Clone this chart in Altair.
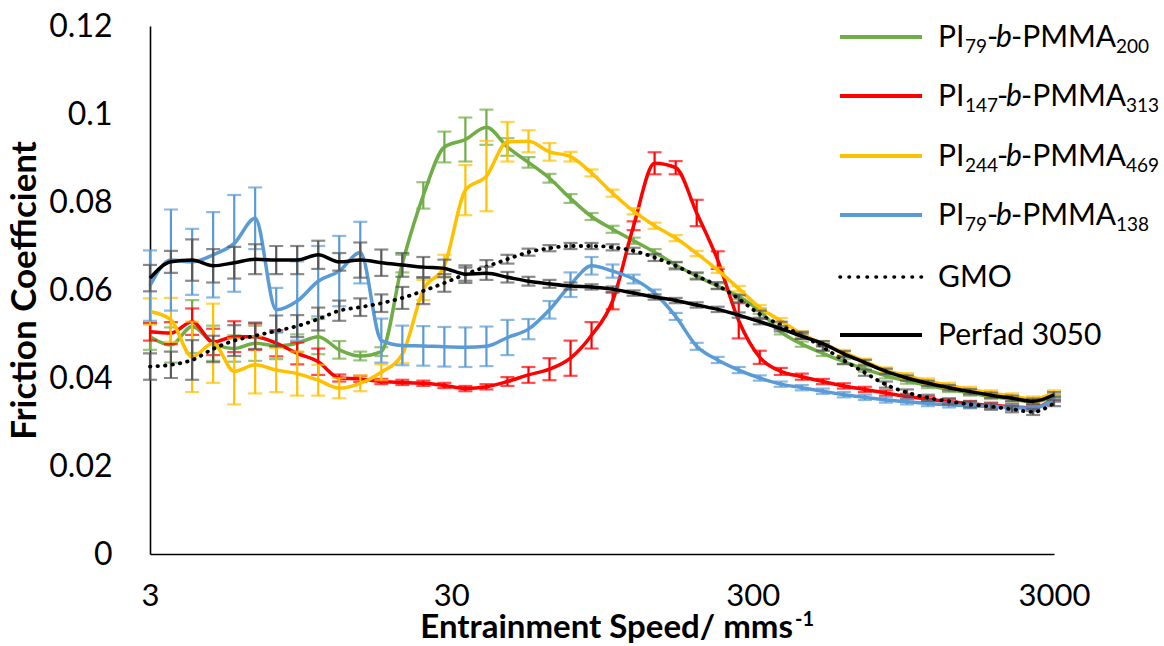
import altair as alt
import pandas as pd

# Entrainment speed (mm/s), logarithmic sweep used for every lubricant
speed = [3.0, 3.52, 4.14, 4.86, 5.71, 6.70, 7.87, 9.24, 10.85, 12.74,
         14.96, 17.57, 20.63, 24.22, 28.45, 33.40, 39.23, 46.06, 54.09, 63.52,
         74.59, 87.59, 102.9, 120.8, 141.8, 166.6, 195.6, 229.7, 269.7, 316.7,
         371.9, 436.8, 512.9, 602.3, 707.3, 830.6, 975.4, 1145, 1345, 1580,
         1855, 2178, 2558, 3000]

# Friction coefficient and error (+/-) for each lubricant
pi79_200 = [0.0494, 0.0475, 0.0517, 0.0479, 0.0467, 0.0479, 0.0473, 0.0479, 0.0494, 0.0464,
            0.0450, 0.0460, 0.0660, 0.0815, 0.0925, 0.0942, 0.0970, 0.0925, 0.0890, 0.0854,
            0.0808, 0.0767, 0.0738, 0.0712, 0.0686, 0.0657, 0.0632, 0.0609, 0.0585, 0.0552,
            0.0505, 0.0477, 0.0456, 0.0437, 0.0420, 0.0405, 0.0393, 0.0383, 0.0374, 0.0366,
            0.0358, 0.0352, 0.0346, 0.0357]
pi79_200_err = [0.003, 0.004, 0.006, 0.004, 0.003, 0.004, 0.003, 0.002, 0.004, 0.002,
                0.001, 0.001, 0.002, 0.003, 0.0035, 0.005, 0.004, 0.002, 0.0012, 0.001,
                0.001, 0.0008, 0.0008, 0.0007, 0.0007, 0.0007, 0.0006, 0.0006, 0.0006, 0.0006,
                0.0006, 0.0006, 0.0006, 0.0006, 0.0006, 0.0006, 0.0006, 0.0006, 0.0006, 0.0006,
                0.0006, 0.0006, 0.0006, 0.0006]

pi147_313 = [0.0505, 0.0502, 0.0528, 0.0482, 0.0494, 0.0494, 0.0479, 0.0456, 0.0437, 0.0400,
             0.0398, 0.0392, 0.0390, 0.0388, 0.0383, 0.0376, 0.0380, 0.0392, 0.0407, 0.0420,
             0.0445, 0.0497, 0.0575, 0.0746, 0.0888, 0.0878, 0.0775, 0.0668, 0.0530, 0.0447,
             0.0415, 0.0403, 0.0392, 0.0382, 0.0374, 0.0366, 0.0358, 0.0352, 0.0346, 0.0342,
             0.0338, 0.0335, 0.0332, 0.0353]
pi147_313_err = [0.002, 0.0025, 0.003, 0.003, 0.0035, 0.003, 0.003, 0.0025, 0.003, 0.0008,
                 0.0007, 0.0006, 0.0006, 0.0006, 0.0006, 0.0006, 0.0006, 0.0010, 0.0018, 0.0025,
                 0.0040, 0.0030, 0.0019, 0.0010, 0.0025, 0.0015, 0.0030, 0.0020, 0.0040, 0.0015,
                 0.0008, 0.0007, 0.0006, 0.0006, 0.0006, 0.0006, 0.0006, 0.0006, 0.0006, 0.0006,
                 0.0006, 0.0006, 0.0006, 0.0006]

pi244_469 = [0.0551, 0.0532, 0.0448, 0.0479, 0.0415, 0.0430, 0.0418, 0.0410, 0.0395, 0.0377,
             0.0388, 0.0413, 0.0454, 0.0600, 0.0655, 0.0827, 0.0859, 0.0937, 0.0938, 0.0914,
             0.0903, 0.0866, 0.0820, 0.0779, 0.0746, 0.0718, 0.0683, 0.0645, 0.0603, 0.0560,
             0.0530, 0.0500, 0.0478, 0.0458, 0.0438, 0.0418, 0.0405, 0.0393, 0.0383, 0.0374,
             0.0366, 0.0359, 0.0352, 0.0366]
pi244_469_err = [0.003, 0.005, 0.008, 0.009, 0.0075, 0.0065, 0.005, 0.005, 0.0035, 0.0023,
                 0.0018, 0.0018, 0.002, 0.0023, 0.0025, 0.0057, 0.008, 0.0045, 0.0025, 0.002,
                 0.0011, 0.0008, 0.0008, 0.0007, 0.0007, 0.0007, 0.0006, 0.0006, 0.0006, 0.0006,
                 0.0006, 0.0006, 0.0006, 0.0006, 0.0006, 0.0006, 0.0006, 0.0006, 0.0006, 0.0006,
                 0.0006, 0.0006, 0.0006, 0.0006]

pi79_138 = [0.0610, 0.0668, 0.0664, 0.0680, 0.0706, 0.0763, 0.0555, 0.0575, 0.0620, 0.0643,
            0.0685, 0.0485, 0.0474, 0.0473, 0.0471, 0.0470, 0.0472, 0.0492, 0.0511, 0.0555,
            0.0612, 0.0655, 0.0643, 0.0625, 0.0593, 0.0540, 0.0472, 0.0441, 0.0418, 0.0400,
            0.0386, 0.0378, 0.0370, 0.0362, 0.0356, 0.0350, 0.0346, 0.0342, 0.0339, 0.0337,
            0.0335, 0.0333, 0.0331, 0.0352]
pi79_138_err = [0.008, 0.0115, 0.0075, 0.0097, 0.011, 0.007, 0.005, 0.009, 0.008, 0.008,
                0.007, 0.005, 0.0045, 0.0045, 0.0045, 0.0045, 0.0045, 0.004, 0.0023, 0.002,
                0.0028, 0.002, 0.0015, 0.001, 0.0008, 0.0008, 0.0008, 0.0007, 0.0007, 0.0006,
                0.0006, 0.0006, 0.0006, 0.0006, 0.0006, 0.0006, 0.0006, 0.0006, 0.0006, 0.0006,
                0.0006, 0.0006, 0.0006, 0.0006]

gmo = [0.0426, 0.0430, 0.0441, 0.0466, 0.0485, 0.0496, 0.0507, 0.0518, 0.0534, 0.0553,
       0.0561, 0.0570, 0.0582, 0.0598, 0.0616, 0.0636, 0.0653, 0.0670, 0.0686, 0.0695,
       0.0700, 0.0700, 0.0697, 0.0689, 0.0674, 0.0655, 0.0632, 0.0610, 0.0580, 0.0545,
       0.0520, 0.0497, 0.0470, 0.0440, 0.0412, 0.0385, 0.0367, 0.0355, 0.0347, 0.0340,
       0.0335, 0.0329, 0.0323, 0.0343]
gmo_err = [0.003, 0.003, 0.0045, 0.003, 0.0035, 0.003, 0.0035, 0.0025, 0.0026, 0.0023,
           0.002, 0.002, 0.0025, 0.003, 0.002, 0.0015, 0.0015, 0.001, 0.0008, 0.0007,
           0.0007, 0.0007, 0.0007, 0.0007, 0.0008, 0.0008, 0.0008, 0.0008, 0.0008, 0.0008,
           0.0008, 0.0008, 0.0008, 0.0008, 0.0007, 0.0007, 0.0007, 0.0007, 0.0007, 0.0007,
           0.0007, 0.0007, 0.0007, 0.0007]

perfad = [0.0627, 0.0664, 0.0668, 0.0655, 0.0662, 0.0670, 0.0668, 0.0668, 0.0680, 0.0664,
          0.0668, 0.0662, 0.0657, 0.0652, 0.0649, 0.0636, 0.0638, 0.0629, 0.0620, 0.0614,
          0.0609, 0.0607, 0.0602, 0.0593, 0.0584, 0.0576, 0.0566, 0.0556, 0.0543, 0.0528,
          0.0512, 0.0495, 0.0478, 0.0455, 0.0435, 0.0415, 0.0400, 0.0388, 0.0378, 0.0369,
          0.0361, 0.0354, 0.0347, 0.0362]
perfad_err = [0.003, 0.0025, 0.0047, 0.0038, 0.0036, 0.0034, 0.0032, 0.0032, 0.0032, 0.002,
              0.004, 0.003, 0.0027, 0.0023, 0.002, 0.002, 0.0015, 0.0012, 0.001, 0.0009,
              0.0008, 0.0006, 0.0006, 0.0006, 0.0006, 0.0006, 0.0006, 0.0006, 0.0006, 0.0006,
              0.0006, 0.0006, 0.0006, 0.0006, 0.0006, 0.0006, 0.0006, 0.0006, 0.0006, 0.0006,
              0.0006, 0.0006, 0.0006, 0.0006]

# (name, values, errors, line colour, error-bar colour, dotted?)
series = [
    ("PI79-b-PMMA200", pi79_200, pi79_200_err, "#70AD47", "#70AD47", False),
    ("PI147-b-PMMA313", pi147_313, pi147_313_err, "#FF0000", "#FF0000", False),
    ("PI244-b-PMMA469", pi244_469, pi244_469_err, "#FFC000", "#FFC000", False),
    ("PI79-b-PMMA138", pi79_138, pi79_138_err, "#5B9BD5", "#5B9BD5", False),
    ("GMO", gmo, gmo_err, "#000000", "#595959", True),
    ("Perfad 3050", perfad, perfad_err, "#000000", "#595959", False),
]

# Legend entries: (main, first subscript, second subscript) or plain label
legend_rows = [
    ("PI", "79", "200"),
    ("PI", "147", "313"),
    ("PI", "244", "469"),
    ("PI", "79", "138"),
    ("GMO",),
    ("Perfad 3050",),
]

FONT = "Lato"
W, H = 904, 528

x_scale = alt.Scale(type="log", domain=[3, 3000])
y_scale = alt.Scale(domain=[0, 0.12], nice=False)

x_axis = alt.Axis(values=[3, 30, 300, 3000], format="d", ticks=False, grid=False,
                  labelFont=FONT, labelFontSize=31, labelColor="#000000",
                  labelPadding=27, labelFlush=False, domainColor="#000000",
                  domainWidth=1.6, title=None)
y_axis = alt.Axis(values=[0, 0.02, 0.04, 0.06, 0.08, 0.1, 0.12], format=".2~f",
                  ticks=False, grid=False, labelFont=FONT, labelFontSize=32,
                  labelColor="#000000", labelPadding=38, domainColor="#000000",
                  domainWidth=1.6, title="Friction Coefficient", titleFont=FONT,
                  titleFontSize=35, titleFontWeight="bold", titleColor="#000000",
                  titlePadding=6)


def xe():
    return alt.X("speed:Q", scale=x_scale, axis=x_axis)


def ye(field):
    return alt.Y(f"{field}:Q", scale=y_scale, axis=y_axis)


layers = []
for name, vals, errs, color, bar_color, dotted in series:
    df = pd.DataFrame({"speed": speed, "value": vals, "err": errs})
    df["lo"] = df["value"] - df["err"]
    df["hi"] = df["value"] + df["err"]
    base = alt.Chart(df)
    layers.append(base.mark_rule(color=bar_color, strokeWidth=2.2)
                  .encode(x=xe(), y=ye("lo"), y2="hi:Q"))
    for end in ("lo", "hi"):
        layers.append(base.mark_tick(orient="horizontal", color=bar_color,
                                     size=14, thickness=2.2)
                      .encode(x=xe(), y=ye(end)))
    line_kw = dict(color=color, strokeWidth=3.5, interpolate="monotone")
    if dotted:
        line_kw.update(strokeDash=[0.5, 7], strokeCap="round", strokeWidth=3.8)
    layers.append(base.mark_line(**line_kw).encode(x=xe(), y=ye("value")))

one = pd.DataFrame({"k": [0]})


def text_at(txt, x, y, size, **kw):
    return (alt.Chart(one)
            .mark_text(text=txt, font=FONT, fontSize=size, align=kw.pop("align", "left"),
                       baseline="alphabetic", color="#000000", **kw)
            .encode(x=alt.value(x), y=alt.value(y)))


# Legend drawn in pixel space to the right of the plot
ROW_Y = [11, 70, 130, 189, 251, 309]
LINE_X0, LINE_X1, TEXT_X = 690, 772, 788
for (row, yc, (_, _, _, color, _, dotted)) in zip(legend_rows, ROW_Y, series):
    rule_kw = dict(color=color, strokeWidth=4)
    if dotted:
        rule_kw.update(strokeDash=[0.5, 8.5], strokeCap="round", strokeWidth=3.6)
    layers.append(alt.Chart(one).mark_rule(**rule_kw).encode(
        x=alt.value(LINE_X0), x2=alt.value(LINE_X1), y=alt.value(yc)))
    base_y = yc + 10
    if len(row) == 1:
        layers.append(text_at(row[0], TEXT_X, base_y, 30))
        continue
    main, sub1, sub2 = row
    shift = 10 if len(sub1) == 3 else 0
    layers.append(text_at(main, TEXT_X, base_y, 30))
    layers.append(text_at(sub1, 815, base_y + 6, 19))
    layers.append(text_at("-", 837 + shift, base_y, 30))
    layers.append(text_at("b", 846 + shift, base_y, 30, fontStyle="italic"))
    layers.append(text_at("-PMMA", 861 + shift, base_y, 30))
    layers.append(text_at(sub2, 966 + shift, base_y + 6, 19))

# x-axis title with superscript unit exponent
layers.append(text_at("Entrainment Speed/ mms", 643, 612, 33, align="right", fontWeight="bold"))
layers.append(text_at("-1", 645, 600, 20, fontWeight="bold"))

chart = (alt.layer(*layers)
         .properties(width=W, height=H,
                     padding={"left": 150, "top": 26, "right": 110, "bottom": 92},
                     autosize=alt.AutoSizeParams(type="none"),
                     background="#FFFFFF")
         .configure_view(stroke=None))

chart.save("out.html", embed_options={"renderer": "svg", "actions": False})
